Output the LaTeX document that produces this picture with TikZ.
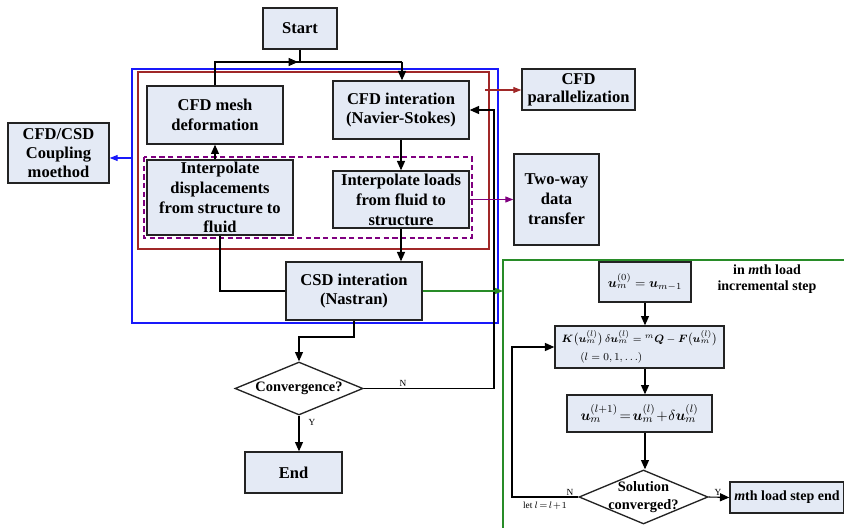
\documentclass[tikz,border=0pt]{standalone}
\usepackage{amsmath}
\usepackage{bm}
\usepackage{fontspec}
\setmainfont{Liberation Serif}
\usetikzlibrary{arrows.meta,shapes.geometric}
\definecolor{boxfill}{RGB}{228,234,245}
\definecolor{bordergray}{RGB}{35,35,35}
\definecolor{blueC}{RGB}{25,25,250}
\definecolor{redC}{RGB}{160,40,40}
\definecolor{purpC}{RGB}{128,0,128}
\definecolor{greenC}{RGB}{40,140,40}
\begin{document}
\begin{tikzpicture}[x=0.75pt,y=-0.75pt,
  box/.style={draw=bordergray, fill=boxfill, line width=1pt, align=center, inner sep=0.5pt,
    font=\fontsize{12.4}{14.9}\selectfont\bfseries},
  dia/.style={diamond, draw=bordergray, fill=white, line width=1pt, inner sep=0pt},
  diatxt/.style={align=center, font=\fontsize{10.8}{14}\selectfont\bfseries},
  arr/.style={line width=0.8pt, draw=black, -{Triangle[length=7pt,width=6pt]}},
  carr/.style={line width=0.8pt, -{Triangle[length=6pt,width=4.5pt]}},
  ln/.style={line width=0.8pt, draw=black},
  small/.style={font=\fontsize{7}{8}\selectfont, inner sep=1pt}
]
\useasboundingbox (0,0) rectangle (844,528);

% group frames
\draw[blueC, line width=0.8pt] (132,69) rectangle (498,323);
\draw[redC, line width=0.9pt] (138,72) rectangle (489,249);
\draw[purpC, line width=0.8pt, dash pattern=on 4pt off 2.5pt] (144,157) rectangle (472,238);
\draw[greenC, line width=0.8pt] (503,540) -- (503,260) -- (850,260);

% left flowchart
\node[box, minimum width=55.5pt, minimum height=30.75pt] (start) at (300,28.5) {Start};
\node[box, minimum width=102pt, minimum height=43.5pt] (mesh) at (215,115) {CFD mesh\\deformation};
\node[box, minimum width=102pt, minimum height=43.5pt] (cfdit) at (401,110) {CFD interation\\(Navier-Stokes)};
\node[box, minimum width=109.5pt, minimum height=56.25pt, inner ysep=0pt] (idisp) at (220,197.5) {Interpolate\\displacements\\from structure to\\fluid};
\node[box, minimum width=102pt, minimum height=42.75pt, inner ysep=0pt] (iload) at (401,199.5) {Interpolate loads\\from fluid to\\structure};
\node[box, minimum width=102pt, minimum height=43.5pt] (csd) at (354,291) {CSD interation\\(Nastran)};
\node[dia, minimum width=96pt, minimum height=39.75pt, label={[diatxt]center:Convergence?}] (conv) at (299,388.5) {};
\node[box, minimum width=72.75pt, minimum height=30.75pt] (end) at (293.5,472.5) {End};

% side boxes
\node[box, minimum width=75.75pt, minimum height=45pt, font=\fontsize{12.4}{14}\selectfont\bfseries] (coup) at (58.5,153) {CFD/CSD\\Coupling\\moethod};
\node[box, minimum width=84.75pt, minimum height=30.75pt, font=\fontsize{12.4}{13.5}\selectfont\bfseries] (par) at (578.5,89.5) {CFD\\parallelization};
\node[box, minimum width=63.75pt, minimum height=68.25pt] (twoway) at (556.5,199.5) {Two-way\\data\\transfer};

% right flowchart
\node[align=center, font=\fontsize{10.5}{12}\selectfont\bfseries] (steplbl) at (767,279) {in \textit{m}th load\\incremental step};
\node[box, minimum width=69pt, minimum height=30pt, font=\fontsize{10}{12}\selectfont] (u0) at (645,282) {$\bm{u}_m^{(0)} = \bm{u}_{m-1}$};
\node[box, minimum width=111.75pt, minimum height=31.5pt, align=left, inner xsep=5pt, font=\fontsize{8}{12}\selectfont] (kbox) at (639.5,347)
  {$\bm{K}\bigl(\bm{u}_m^{(l)}\bigr)\,\delta\bm{u}_m^{(l)} = {}^{m}\bm{Q}-\bm{F}\bigl(\bm{u}_m^{(l)}\bigr)$\\[2pt]\hspace*{14pt}$(l=0,1,\ldots)$};
\node[box, minimum width=108.75pt, minimum height=27.75pt, font=\fontsize{11}{13}\selectfont] (uplus) at (639.5,413.5)
  {$\bm{u}_m^{(l+1)}\!=\!\bm{u}_m^{(l)}\!+\!\delta\bm{u}_m^{(l)}$};
\node[dia, minimum width=96.75pt, minimum height=40.5pt, label={[diatxt]center:Solution\\converged?}] (sol) at (643.5,497) {};
\node[box, minimum width=85.5pt, minimum height=23.25pt, font=\fontsize{10.5}{12}\selectfont\bfseries] (mend) at (787,497.5) {\textit{m}th load step end};

% coordinates
\coordinate (jl) at (215,62);
\coordinate (jm) at (298,62);
\coordinate (jr) at (402,62);
\coordinate (loopx) at (494,388.5);
\coordinate (csdbend) at (354,337);
\coordinate (dispx) at (220,291);
\coordinate (bluept) at (132,158);
\coordinate (redpt) at (485,90);
\coordinate (greenpt) at (503,291);
\coordinate (solx) at (512,497);

% left connectors
\draw[ln] (start.south) -- (start.south |- jl);
\draw[ln] (mesh.north) -- (jl) -- (jr);
\draw[arr] (jl) -- (jm);
\draw[arr] (jr) -- (jr |- cfdit.north);
\draw[arr] (cfdit.south) -- (iload.north);
\draw[arr] (mesh.south |- idisp.north) -- (mesh.south);
\draw[arr] (iload.south) -- (iload.south |- csd.north);
\draw[ln] (csd.west) -- (dispx) -- (dispx |- idisp.south);
\draw[arr] (csd.south) -- (csdbend) -- (conv.north |- csdbend) -- (conv.north);
\draw[arr] (conv.south) -- (conv.south |- end.north);
\draw[arr] (conv.east) -- (loopx) -- (loopx |- cfdit.east) -- (cfdit.east);
\node[small, anchor=south] at (403,388.5) {N};
\node[small] at (312,422) {Y};

% colored connectors
\draw[carr, blueC] (bluept) -- (coup.east |- bluept);
\draw[carr, redC] (redpt) -- (par.west |- redpt);
\draw[carr, purpC] (iload.east) -- (twoway.west |- iload.east);
\draw[carr, greenC] (csd.east) -- (greenpt);

% right connectors
\draw[arr] (u0.south) -- (u0.south |- kbox.north);
\draw[arr] (u0.south |- kbox.south) -- (u0.south |- uplus.north);
\draw[arr] (u0.south |- uplus.south) -- (u0.south |- sol.north);
\draw[arr] (sol.west) -- (solx) -- (solx |- kbox.west) -- (kbox.west);
\draw[arr] (sol.east) -- (mend.west);
\node[small, anchor=south] at (570,497) {N};
\node[small] at (545,506) {let $l\!=\!l\!+\!1$};
\node[small, anchor=south] at (718,497) {Y};
\end{tikzpicture}
\end{document}
